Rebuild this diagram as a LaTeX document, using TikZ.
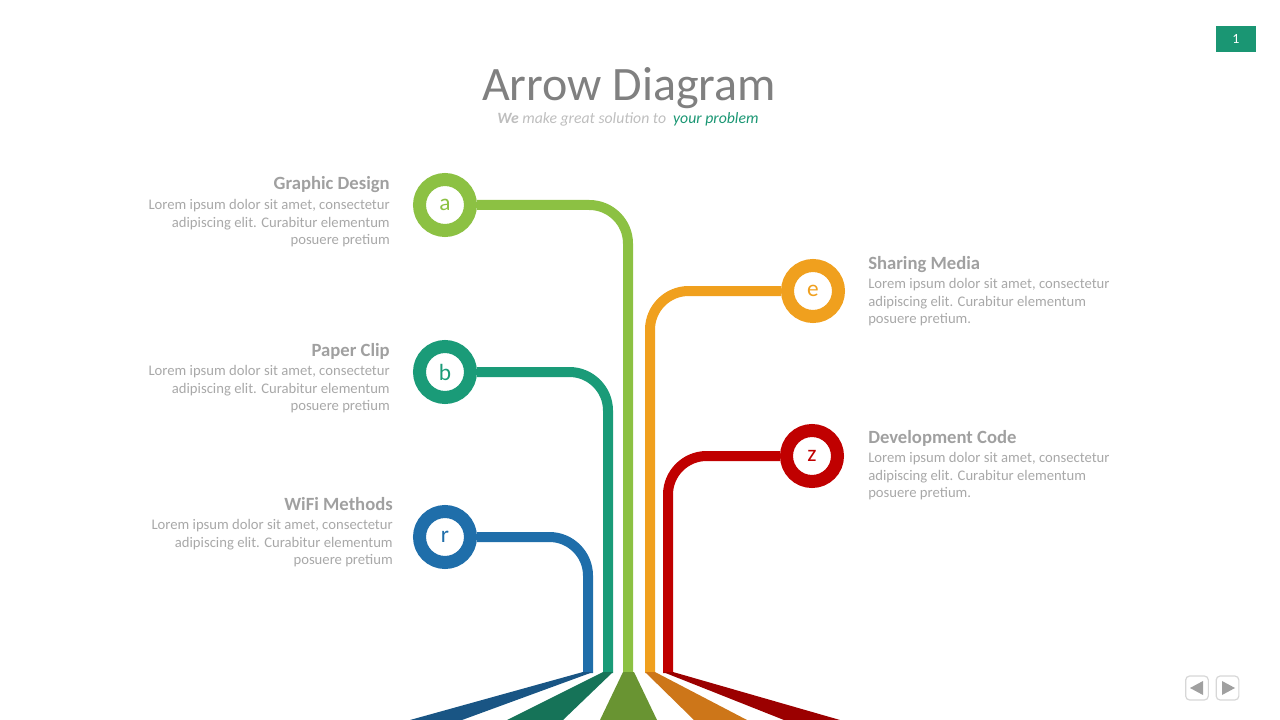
\documentclass[tikz,border=0pt]{standalone}
\usepackage{fontspec}
\setmainfont{Carlito}
\usetikzlibrary{backgrounds}
\definecolor{cgreen}{RGB}{140,193,67}
\definecolor{cteal}{RGB}{26,155,120}
\definecolor{cblue}{RGB}{31,110,170}
\definecolor{corange}{RGB}{240,160,30}
\definecolor{cred}{RGB}{192,0,0}
\definecolor{dgreen}{RGB}{105,148,50}
\definecolor{dteal}{RGB}{22,115,88}
\definecolor{dblue}{RGB}{25,85,132}
\definecolor{dorange}{RGB}{205,118,25}
\definecolor{dred}{RGB}{155,0,0}
\definecolor{titlegray}{RGB}{128,128,128}
\definecolor{headgray}{RGB}{160,160,160}
\definecolor{bodygray}{RGB}{168,168,168}
\definecolor{subgray}{RGB}{190,190,190}
\definecolor{pagegreen}{RGB}{26,150,115}
\definecolor{navgray}{RGB}{160,160,160}
\definecolor{navborder}{RGB}{215,215,215}
\begin{document}
\begin{tikzpicture}[x=0.75pt,y=-0.75pt,
  conn/.style={line width=7.5pt, rounded corners=29pt},
  ring/.style={circle, draw, line width=9.75pt, minimum size=38.25pt, inner sep=0pt, fill=white, font=\fontsize{17.5}{20}\selectfont},
  head/.style={font=\fontsize{14}{16}\selectfont\bfseries, text=headgray, inner sep=0pt},
  body/.style={font=\fontsize{11}{13.2}\selectfont, text=bodygray, inner sep=0pt},
  navbtn/.style={draw=navborder, line width=0.9pt, rounded corners=3pt, fill=white, minimum width=17pt, minimum height=18pt, inner sep=0pt}]
\useasboundingbox (0,0) rectangle (1280,720);

% page number
\node (pg) [fill=pagegreen, minimum width=30pt, minimum height=19.5pt, inner sep=0pt, text=white, font=\fontsize{10.5}{11}\selectfont] at (1236,39) {1};

% title
\node (title) [anchor=base, inner sep=0pt, font=\fontsize{36}{40}\selectfont, text=titlegray] at (629,101) {Arrow Diagram};
\node (sub) [anchor=base, inner sep=0pt, font=\fontsize{11.8}{13}\selectfont\itshape, text=subgray] at (628,124) {{\bfseries We} make great solution to\ \ \textcolor{pagegreen}{your problem}};

% bottom coordinates
\coordinate (gb) at (628,673);
\coordinate (tb) at (608,673);
\coordinate (bb) at (588,673);
\coordinate (ob) at (650,673);
\coordinate (rb) at (668,673);

% fans
\fill[dblue] (583,672) -- (593,672) -- (462,720) -- (410,720) -- cycle;
\fill[dteal] (603,672) -- (613,672) -- (563,720) -- (507,720) -- cycle;
\fill[dgreen] (623,672) -- (634,672) -- (657,720) -- (600,720) -- cycle;
\fill[dorange] (645,672) -- (655,672) -- (747,720) -- (694,720) -- cycle;
\fill[dred] (663,672) -- (673,672) -- (840,720) -- (784,720) -- cycle;

% circles
\node (a) [ring, draw=cgreen, text=cgreen] at (445,205) {a};
\node (b) [ring, draw=cteal, text=cteal] at (445,372) {b};
\node (r) [ring, draw=cblue, text=cblue] at (445,537) {r};
\node (e) [ring, draw=corange, text=corange] at (813,291) {e};
\node (z) [ring, draw=cred, text=cred] at (812,456) {z};

\begin{scope}[on background layer]
\draw[conn, cgreen] (a) -| (gb);
\draw[conn, cteal] (b) -| (tb);
\draw[conn, cblue] (r) -| (bb);
\draw[conn, corange] (e) -| (ob);
\draw[conn, cred] (z) -| (rb);
\end{scope}

% left texts
\node (h1) [head, anchor=base east] at (390,190) {Graphic Design};
\node (t1) [body, anchor=north east, align=right] at (390,199) {Lorem ipsum dolor sit amet, consectetur\\adipiscing elit. Curabitur elementum\\posuere pretium};
\node (h2) [head, anchor=base east] at (390,356) {Paper Clip};
\node (t2) [body, anchor=north east, align=right] at (390,365) {Lorem ipsum dolor sit amet, consectetur\\adipiscing elit. Curabitur elementum\\posuere pretium};
\node (h3) [head, anchor=base east] at (393,510) {WiFi Methods};
\node (t3) [body, anchor=north east, align=right] at (393,519) {Lorem ipsum dolor sit amet, consectetur\\adipiscing elit. Curabitur elementum\\posuere pretium};

% right texts
\node (h4) [head, anchor=base west] at (868,269) {Sharing Media};
\node (t4) [body, anchor=north west, align=left] at (868,278) {Lorem ipsum dolor sit amet, consectetur\\adipiscing elit. Curabitur elementum\\posuere pretium.};
\node (h5) [head, anchor=base west] at (868,443) {Development Code};
\node (t5) [body, anchor=north west, align=left] at (868,452) {Lorem ipsum dolor sit amet, consectetur\\adipiscing elit. Curabitur elementum\\posuere pretium.};

% nav buttons
\node (prev) [navbtn] at (1197,688) {};
\node (next) [navbtn] at (1227.5,688) {};
\fill[navgray] (1190,688) -- (1203,681) -- (1203,695) -- cycle;
\fill[navgray] (1222,681) -- (1222,695) -- (1235,688) -- cycle;
\end{tikzpicture}
\end{document}
